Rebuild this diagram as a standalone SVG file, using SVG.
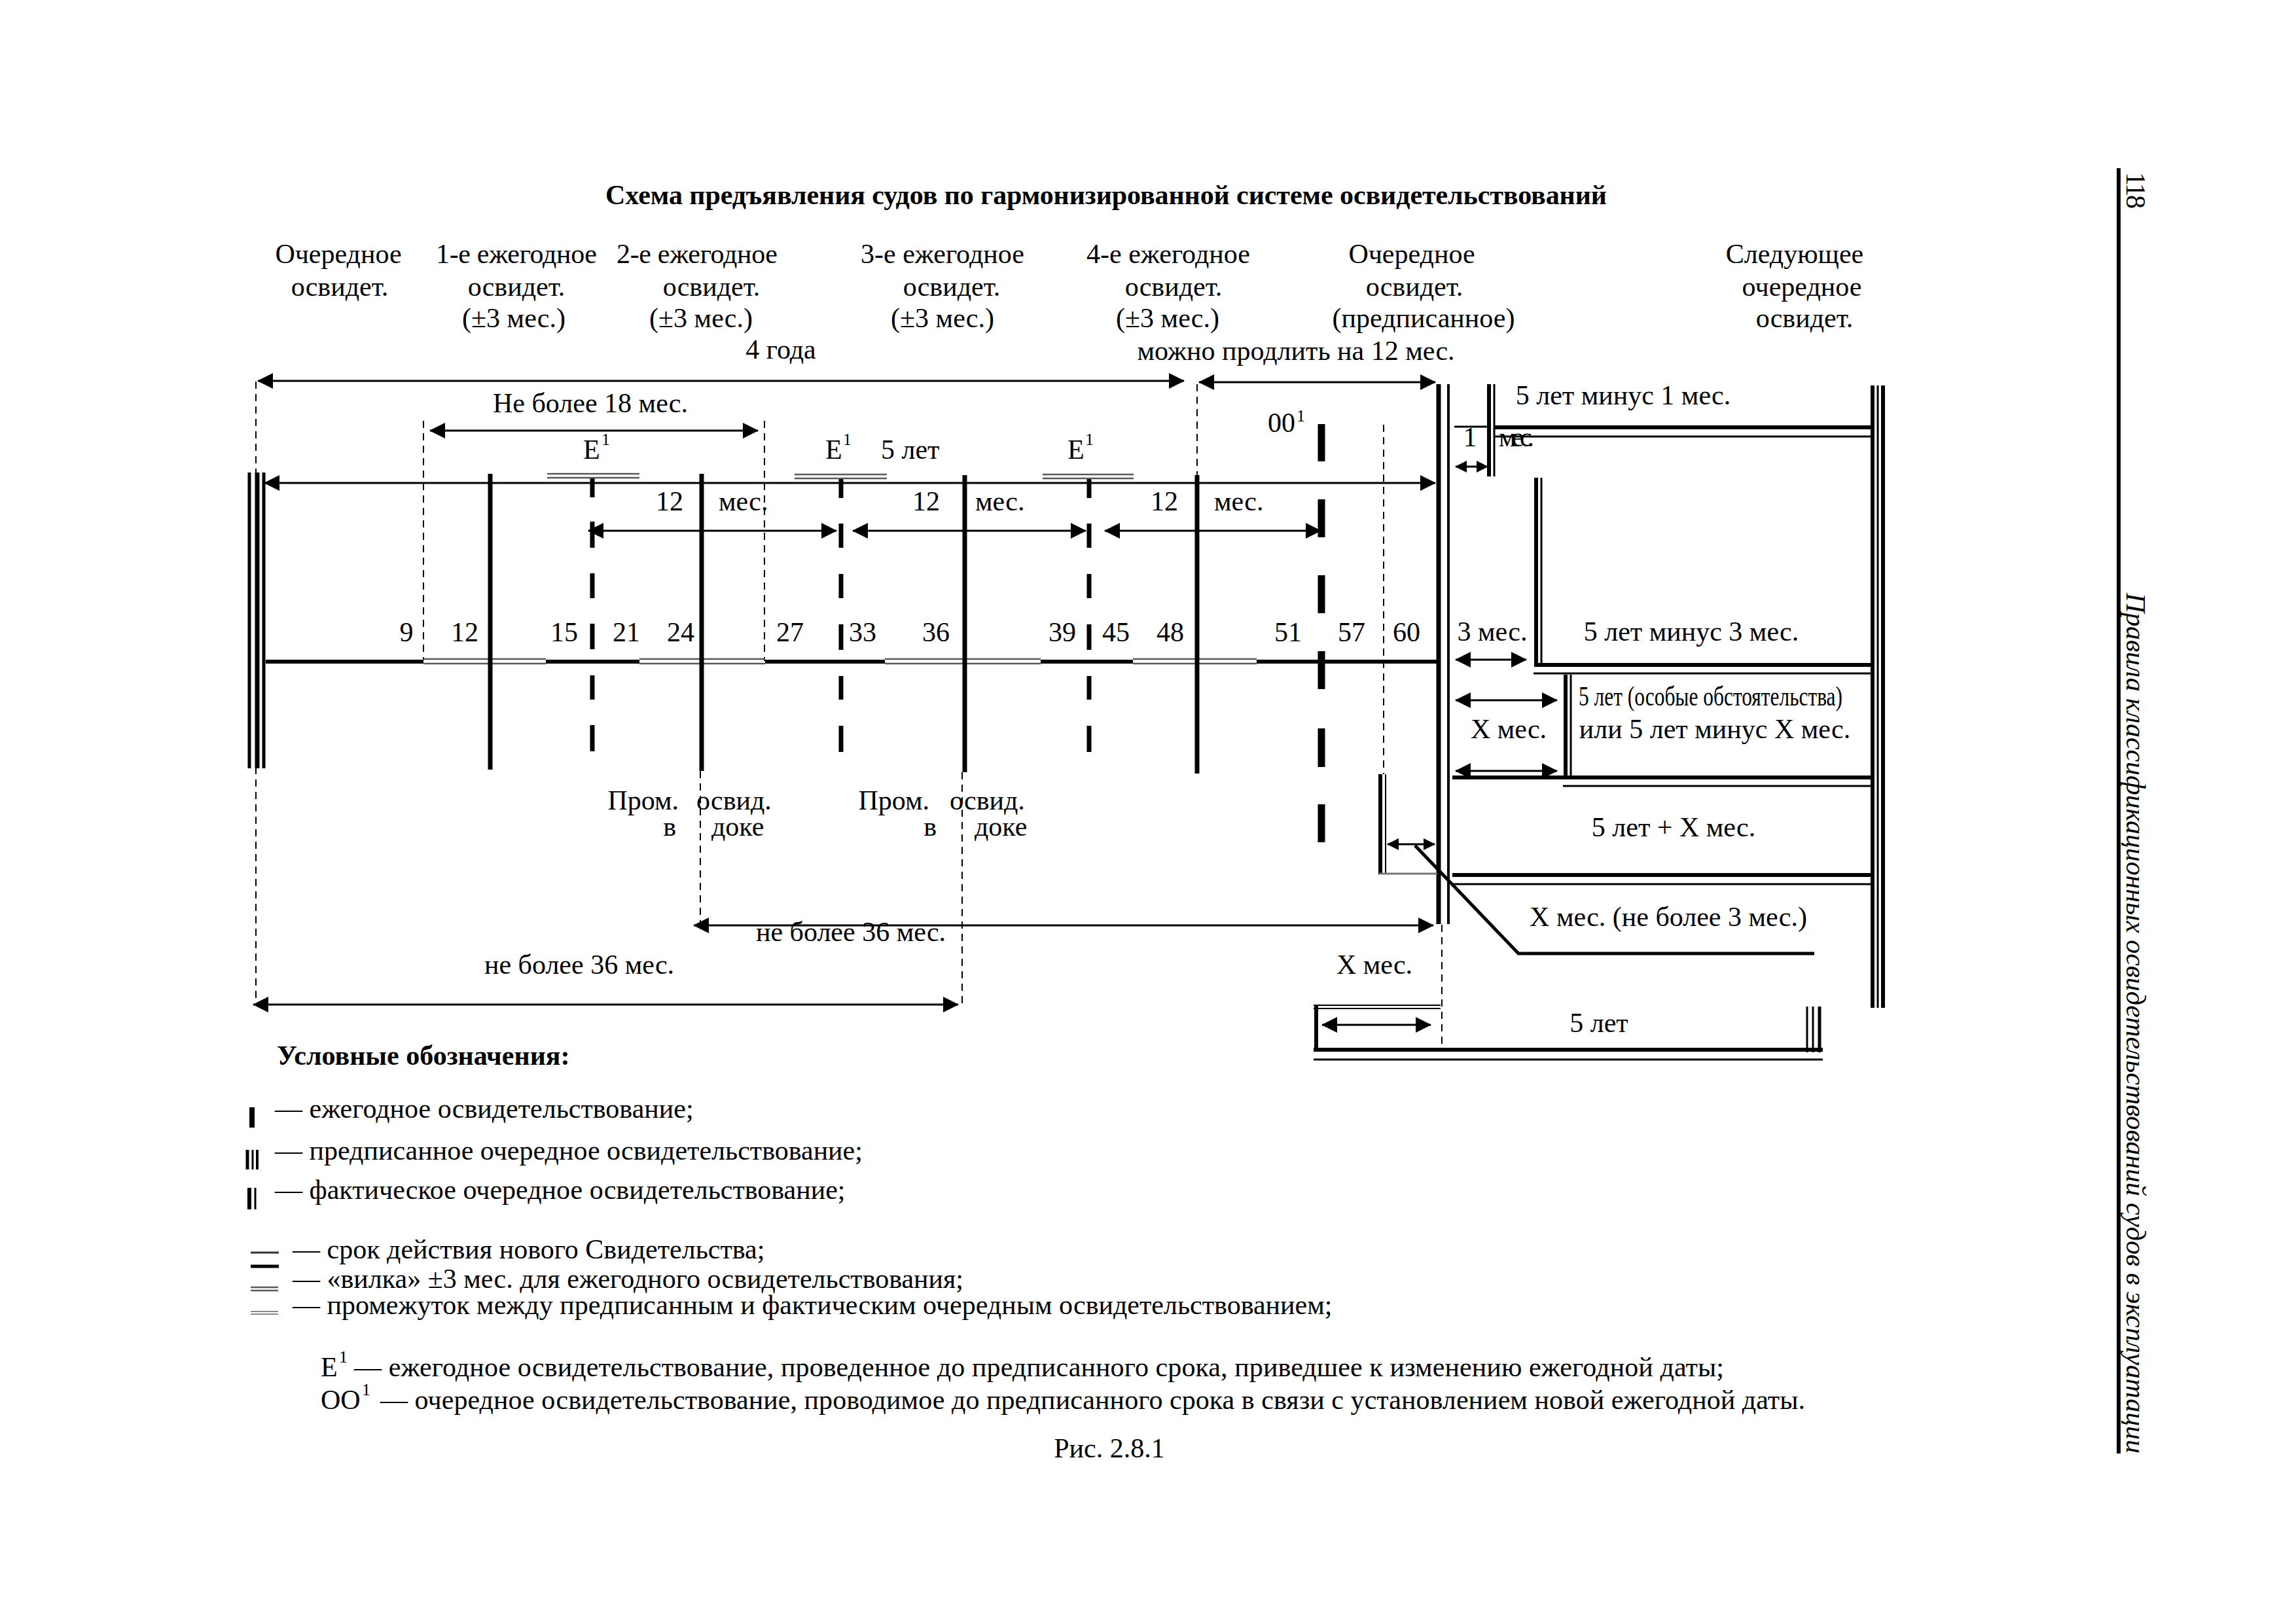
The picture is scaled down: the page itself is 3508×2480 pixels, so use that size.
<svg xmlns="http://www.w3.org/2000/svg" width="3508" height="2480" viewBox="0 0 3508 2480">
<defs>
<style>
text{font-family:"Liberation Serif","Times New Roman",serif;font-size:42px;fill:#000}
.c{text-anchor:middle}
.r{text-anchor:end}
.b{font-weight:bold}
.s{font-size:26px}
.thin{stroke:#000;stroke-width:3;fill:none}
.med{stroke:#000;stroke-width:4;fill:none}
.thick{stroke:#000;stroke-width:6;fill:none}
.dash{stroke:#000;stroke-width:2;stroke-dasharray:11 8;fill:none}
.gray{stroke:#5a5a5a;stroke-width:2.5;fill:none}
.lgray{stroke:#8a8a8a;stroke-width:2;fill:none}
.tick{stroke:#000;stroke-width:7;fill:none}
.e1{stroke:#000;stroke-width:7;fill:none}
.oo{stroke:#000;stroke-width:11;fill:none}
.arr{stroke:#000;stroke-width:3;fill:none;marker-start:url(#ah);marker-end:url(#ah)}
.arrs{stroke:#000;stroke-width:3;fill:none;marker-start:url(#as);marker-end:url(#as)}
</style>
<marker id="ah" viewBox="0 0 24 24" markerWidth="24" markerHeight="24" refX="23" refY="12" orient="auto-start-reverse" markerUnits="userSpaceOnUse"><path d="M0,0 L24,12 L0,24 z" fill="#000"/></marker>
<marker id="as" viewBox="0 0 18 18" markerWidth="18" markerHeight="18" refX="17" refY="9" orient="auto-start-reverse" markerUnits="userSpaceOnUse"><path d="M0,0 L18,9 L0,18 z" fill="#000"/></marker>
</defs>
<rect width="3508" height="2480" fill="#fff"/>

<g id="title">
<text class="c b" x="1690" y="312" font-size="41" textLength="1530">Схема предъявления судов по гармонизированной системе освидетельствований</text>
</g>

<g id="headers">
<text class="c" x="517" y="402">Очередное</text>
<text class="c" x="519" y="452">освидет.</text>
<text class="c" x="789" y="402" textLength="246">1-е ежегодное</text>
<text class="c" x="789" y="452">освидет.</text>
<text class="c" x="785" y="500">(±3 мес.)</text>
<text class="c" x="1065" y="402" textLength="246">2-е ежегодное</text>
<text class="c" x="1087" y="452">освидет.</text>
<text class="c" x="1071" y="500">(±3 мес.)</text>
<text class="c" x="1440" y="402">3-е ежегодное</text>
<text class="c" x="1454" y="452">освидет.</text>
<text class="c" x="1440" y="500">(±3 мес.)</text>
<text class="c" x="1785" y="402">4-е ежегодное</text>
<text class="c" x="1793" y="452">освидет.</text>
<text class="c" x="1784" y="500">(±3 мес.)</text>
<text class="c" x="2157" y="402">Очередное</text>
<text class="c" x="2161" y="452">освидет.</text>
<text class="c" x="2175" y="500">(предписанное)</text>
<text class="c" x="2742" y="402">Следующее</text>
<text class="c" x="2753" y="452">очередное</text>
<text class="c" x="2757" y="500">освидет.</text>
<text class="c" x="1193" y="548">4 года</text>
<text class="c" x="1980" y="550">можно продлить на 12 мес.</text>
</g>

<g id="guides">
<path class="dash" d="M391,583V1530"/>
<path class="dash" d="M647,643V1008"/>
<path class="dash" d="M1168,643V1010"/>
<path class="dash" d="M1070,1178V1412"/>
<path class="dash" d="M1470,1180V1533"/>
<path class="dash" d="M1829,587V726"/>
<path class="dash" d="M2114,649V1183"/>
<path class="dash" d="M2203,1413V1597"/>
</g>

<g id="timeline">
<path class="thick" d="M406,1011H647 M834,1011H977 M1169,1011H1352 M1590,1011H1731 M1920,1011H2197"/>
<path class="gray" d="M647,1007H834 M647,1014H834 M977,1007H1169 M977,1014H1169 M1352,1007H1590 M1352,1014H1590 M1731,1007H1920 M1731,1014H1920"/>
</g>

<g id="start-survey">
<path stroke="#000" stroke-width="5" d="M381,722V1174"/>
<path stroke="#000" stroke-width="7" d="M393,722V1174"/>
<path stroke="#000" stroke-width="5" d="M403,722V1174"/>
</g>

<g id="annual-ticks">
<path class="tick" d="M749,724V1176"/>
<path class="tick" d="M1072,724V1178"/>
<path class="tick" d="M1474,726V1180"/>
<path class="tick" d="M1829,726V1182"/>
</g>

<g id="e1-a">
<path class="e1" d="M905,730V760 M905,797V837 M905,876V914 M905,953V992 M905,1032V1069 M905,1108V1148"/>
<path class="gray" d="M836,724H977 M836,730H977"/>
<text x="891" y="701">Е</text><text class="s" x="919" y="680">1</text>
</g>
<g id="e1-b">
<path class="e1" d="M1285,730V761 M1285,800V837 M1285,877V914 M1285,954V993 M1285,1033V1069 M1285,1109V1149"/>
<path class="gray" d="M1214,725H1355 M1214,731H1355"/>
<text x="1261" y="701">Е</text><text class="s" x="1288" y="680">1</text>
<text x="1346" y="701">5 лет</text>
</g>
<g id="e1-c">
<path class="e1" d="M1664,730V761 M1664,800V837 M1664,877V914 M1664,954V993 M1664,1033V1069 M1664,1109V1149"/>
<path class="gray" d="M1593,725H1732 M1593,731H1732"/>
<text x="1631" y="701">Е</text><text class="s" x="1658" y="680">1</text>
</g>

<g id="oo1">
<path class="oo" d="M2019,648V705 M2019,763V821 M2019,879V937 M2019,995V1053 M2019,1113V1172 M2019,1229V1287"/>
<text x="1937" y="660">00</text><text class="s" x="1981" y="644">1</text>
</g>

<g id="prescribed-survey">
<path stroke="#000" stroke-width="7" d="M2198,587V1412"/>
<path stroke="#000" stroke-width="4" d="M2213,587V1412"/>
</g>

<g id="next-survey">
<path stroke="#000" stroke-width="6" d="M2861,589V1540"/>
<path stroke="#000" stroke-width="3" d="M2869,589V1540"/>
<path stroke="#000" stroke-width="6" d="M2877,589V1540"/>
</g>

<g id="row-1month">
<path stroke="#000" stroke-width="6" d="M2275,587V728"/>
<path stroke="#000" stroke-width="3" d="M2283,587V728"/>
<path class="thin" d="M2222,652H2275"/>
<path stroke="#000" stroke-width="6" d="M2284,653H2858"/>
<path class="thin" d="M2284,667H2858"/>
<text class="c" x="2480" y="618">5 лет минус 1 мес.</text>
<text class="c" x="2246" y="682" font-size="32">1</text>
<text x="2290" y="682" font-size="28" textLength="54">мес.</text>
</g>

<g id="row-3month">
<path stroke="#000" stroke-width="6" d="M2347,730V1014"/>
<path stroke="#000" stroke-width="3" d="M2355,730V1014"/>
<path stroke="#000" stroke-width="6" d="M2344,1016H2858"/>
<path class="thin" d="M2343,1029H2858"/>
<text class="c" x="2280" y="979">3 мес.</text>
<text class="c" x="2584" y="979">5 лет минус 3 мес.</text>
</g>

<g id="row-special">
<path stroke="#000" stroke-width="6" d="M2392,1031V1186"/>
<path stroke="#000" stroke-width="3" d="M2400,1031V1186"/>
<path stroke="#000" stroke-width="6" d="M2219,1188H2858"/>
<path class="thin" d="M2388,1201H2858"/>
<text x="2412" y="1078" font-size="38" textLength="403" lengthAdjust="spacingAndGlyphs">5 лет (особые обстоятельства)</text>
<text class="c" x="2620" y="1128">или 5 лет минус X мес.</text>
<text class="c" x="2305" y="1128">X мес.</text>
</g>

<g id="row-plusx">
<path stroke="#000" stroke-width="6" d="M2219,1337H2858"/>
<path class="thin" d="M2219,1351H2858"/>
<text class="c" x="2557" y="1278">5 лет + X мес.</text>
</g>

<g id="early-survey">
<path stroke="#000" stroke-width="6" d="M2109,1183V1336"/>
<path stroke="#000" stroke-width="2" d="M2117,1183V1336"/>
<path stroke="#777" stroke-width="3" d="M2107,1335H2196"/>
<path stroke="#000" stroke-width="5" fill="none" d="M2162,1292L2320,1457H2772"/>
<text class="c" x="2549" y="1415">X мес. (не более 3 мес.)</text>
<text class="c" x="2100" y="1488">X мес.</text>
</g>

<g id="five-years-box">
<path stroke="#000" stroke-width="2" d="M2007,1536H2201 M2007,1541H2201"/>
<path stroke="#000" stroke-width="6" d="M2011,1536V1607"/>
<path stroke="#000" stroke-width="6" d="M2007,1604H2785"/>
<path stroke="#000" stroke-width="3" d="M2761,1538V1608 M2770,1538V1608"/>
<path stroke="#000" stroke-width="5" d="M2780,1538V1608"/>
<path stroke="#000" stroke-width="3" d="M2007,1619H2785"/>
<text class="c" x="2443" y="1577">5 лет</text>
</g>

<g id="labels">
<text class="c" x="902" y="630">Не более 18 мес.</text>
<text class="c" x="1023" y="780">12</text><text x="1098" y="780">мес.</text>
<text class="c" x="1415" y="780">12</text><text x="1490" y="780">мес.</text>
<text class="c" x="1779" y="780">12</text><text x="1855" y="780">мес.</text>
<text class="c" x="621" y="980">9</text>
<text class="c" x="710" y="980">12</text>
<text class="c" x="862" y="980">15</text>
<text class="c" x="957" y="980">21</text>
<text class="c" x="1040" y="980">24</text>
<text class="c" x="1207" y="980">27</text>
<text class="c" x="1318" y="980">33</text>
<text class="c" x="1430" y="980">36</text>
<text class="c" x="1623" y="980">39</text>
<text class="c" x="1705" y="980">45</text>
<text class="c" x="1788" y="980">48</text>
<text class="c" x="1968" y="980">51</text>
<text class="c" x="2065" y="980">57</text>
<text class="c" x="2149" y="980">60</text>
<text class="r" x="1037" y="1237">Пром.</text><text x="1064" y="1237">освид.</text>
<text class="r" x="1033" y="1277">в</text><text x="1087" y="1277">доке</text>
<text class="r" x="1420" y="1237">Пром.</text><text x="1451" y="1237">освид.</text>
<text class="r" x="1431" y="1277">в</text><text x="1489" y="1277">доке</text>
<text class="c" x="1300" y="1438">не более 36 мес.</text>
<text class="c" x="885" y="1488">не более 36 мес.</text>
</g>

<g id="connectors">
<path class="arr" d="M394,582H1809"/>
<path class="arr" d="M1832,584H2193"/>
<path class="arr" d="M657,658H1158"/>
<path class="arr" d="M404,738H2193"/>
<path class="arr" d="M899,811H1278"/>
<path class="arr" d="M1303,811H1659"/>
<path class="arr" d="M1688,811H2018"/>
<path class="arrs" d="M2224,713H2273"/>
<path class="arr" d="M2224,1008H2332"/>
<path class="arr" d="M2224,1070H2379"/>
<path class="arr" d="M2224,1178H2379"/>
<path class="arrs" d="M2120,1290H2192"/>
<path class="arr" d="M1060,1414H2190"/>
<path class="arr" d="M387,1535H1464"/>
<path class="arr" d="M2020,1566H2186"/>
</g>

<g id="legend">
<text class="b" x="423" y="1627">Условные обозначения:</text>
<path stroke="#000" stroke-width="8" d="M385,1692V1723"/>
<text x="420" y="1708">— ежегодное освидетельствование;</text>
<path stroke="#000" stroke-width="5" d="M378,1757V1787"/>
<path stroke="#000" stroke-width="3" d="M386,1757V1787"/>
<path stroke="#000" stroke-width="4" d="M393,1757V1787"/>
<text x="420" y="1772">— предписанное очередное освидетельствование;</text>
<path stroke="#000" stroke-width="6" d="M381,1815V1848"/>
<path stroke="#000" stroke-width="3" d="M390,1815V1848"/>
<text x="420" y="1832">— фактическое очередное освидетельствование;</text>
<path stroke="#333" stroke-width="3" d="M383,1914H426"/>
<path stroke="#000" stroke-width="5" d="M383,1935H426"/>
<text x="447" y="1923">— срок действия нового Свидетельства;</text>
<path class="gray" d="M383,1967H425 M383,1972H425"/>
<text x="447" y="1968" font-size="40">— «вилка» ±3 мес. для ежегодного освидетельствования;</text>
<path class="lgray" d="M383,2004H425 M383,2008H425"/>
<text x="447" y="2008" font-size="40">— промежуток между предписанным и фактическим очередным освидетельствованием;</text>
<text x="490" y="2103">Е</text><text class="s" x="518" y="2082">1</text>
<text x="541" y="2103" textLength="2093">— ежегодное освидетельствование, проведенное до предписанного срока, приведшее к изменению ежегодной даты;</text>
<text x="490" y="2153">ОО</text><text class="s" x="553" y="2132">1</text>
<text x="581" y="2153" textLength="2177">— очередное освидетельствование, проводимое до предписанного срока в связи с установлением новой ежегодной даты.</text>
<text class="c" x="1695" y="2227">Рис. 2.8.1</text>
</g>

<g id="page-margin">
<path stroke="#000" stroke-width="6" d="M3237,257V2221"/>
<text transform="translate(3249,263) rotate(90)" font-size="40" textLength="56">118</text>
<text transform="translate(3249,906) rotate(90)" font-style="italic" textLength="1315">Правила классификационных освидетельствований судов в эксплуатации</text>
</g>
</svg>
